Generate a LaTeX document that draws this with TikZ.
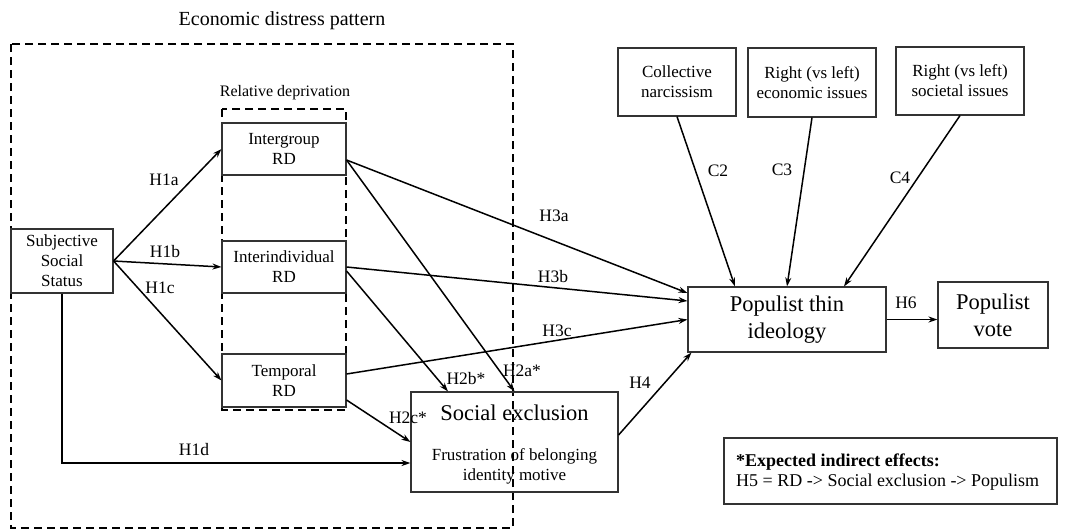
\documentclass[tikz,border=0pt]{standalone}
\usepackage{fontspec}
\setmainfont{Liberation Serif}
\usetikzlibrary{arrows.meta,calc}
\begin{document}
\begin{tikzpicture}[x=1pt,y=-1pt,
  box/.style={draw=black!80,line width=1.1pt,inner sep=0pt,align=center,font=\fontsize{17}{20}\selectfont},
  bigbox/.style={box,font=\fontsize{22.5}{27}\selectfont},
  txt/.style={inner sep=0pt,align=center,font=\fontsize{17}{20}\selectfont},
  lbl/.style={inner sep=0pt,font=\fontsize{17.5}{20}\selectfont},
  frame/.style={draw=black,line width=1.8pt,dash pattern=on 8pt off 5pt},
  arr/.style={draw=black,line width=1.5pt,-{Stealth[length=9pt,width=6pt]}}]
\useasboundingbox (0,0) rectangle (1065,531);
% frames
\draw[frame] (11,44) rectangle (513,528);
\draw[frame] (222,109) rectangle (346,410);
\node[inner sep=0pt,font=\fontsize{20}{24}\selectfont] (title) at (282,21) {Economic distress pattern};
\node[inner sep=0pt,font=\fontsize{16}{19}\selectfont] (rdtitle) at (285,93) {Relative deprivation};
% boxes
\node[box,minimum width=102pt,minimum height=64pt] (sss) at (62,261) {Subjective\\Social\\Status};
\node[box,minimum width=124pt,minimum height=52pt] (inter) at (284,149) {Intergroup\\RD};
\node[box,minimum width=124pt,minimum height=52pt] (indiv) at (284,267) {Interindividual\\RD};
\node[box,minimum width=124pt,minimum height=53pt] (temp) at (284,380.5) {Temporal\\RD};
\node[box,minimum width=207pt,minimum height=100pt] (socex) at (514.5,442) {};
\node[inner sep=0pt,font=\fontsize{22.5}{27}\selectfont] (socext) at (514.5,413) {Social exclusion};
\node[txt] (socexs) at (514.5,466.5) {Frustration of belonging\\identity motive};
\node[box,minimum width=118pt,minimum height=68pt] (cn) at (677,82) {Collective\\narcissism};
\node[box,minimum width=128pt,minimum height=69pt] (econ) at (812,82.5) {Right (vs left)\\economic issues};
\node[box,minimum width=128pt,minimum height=68pt] (soc) at (960,81) {Right (vs left)\\societal issues};
\node[bigbox,minimum width=198pt,minimum height=65pt] (pti) at (787,319.5) {Populist thin\\ideology};
\node[bigbox,minimum width=110pt,minimum height=66pt] (pv) at (993,315) {Populist\\vote};
\node[box,minimum width=333pt,minimum height=66pt] (leg) at (890.5,471) {};
\node[inner sep=0pt,anchor=west,align=left,font=\fontsize{18}{20}\selectfont] (legt) at (736,472) {\textbf{*Expected indirect effects:}\\H5 = RD -> Social exclusion -> Populism};
% connectors
\draw[arr] (sss.east) -- (inter.west);
\draw[arr] (sss.east) -- (indiv.west);
\draw[arr] (sss.east) -- (temp.west);
\draw[arr] (sss.south) |- ([yshift=-21pt]socex.west);
\draw[arr] ([yshift=-11pt]inter.east) -- (socex.north);
\draw[arr] ([yshift=-4pt]indiv.east) -- ([xshift=-66.5pt]socex.north);
\draw[arr] ([yshift=-19.5pt]temp.east) -- (socex.west);
\draw[arr] ([yshift=-11pt]inter.east) -- ([yshift=26.5pt]pti.west);
\draw[arr] (indiv.east) -- ([yshift=18.5pt]pti.west);
\draw[arr] ([yshift=6.5pt]temp.east) -- (pti.west);
\draw[arr] ([yshift=7pt]socex.east) -- ([xshift=4pt]pti.south west);
\draw[arr] (pti.east) -- (pti.east -| pv.west);
\draw[arr] (cn.south) -- ([xshift=-52pt]pti.north);
\draw[arr] (econ.south) -- (pti.north);
\draw[arr] (soc.south) -- ([xshift=57pt]pti.north);
% labels
\node[lbl] (l1a) at (164,180) {H1a};
\node[lbl] (l1b) at (165,252) {H1b};
\node[lbl] (l1c) at (160,288) {H1c};
\node[lbl] (l1d) at (194,450) {H1d};
\node[lbl] (l2a) at (522,371) {H2a*};
\node[lbl] (l2b) at (466,379) {H2b*};
\node[lbl] (l2c) at (408,418) {H2c*};
\node[lbl] (l3a) at (554,216) {H3a};
\node[lbl] (l3b) at (553,277) {H3b};
\node[lbl] (l3c) at (557,331) {H3c};
\node[lbl] (l4) at (640,383) {H4};
\node[lbl] (l6) at (906,303) {H6};
\node[lbl] (c2) at (718,171) {C2};
\node[lbl] (c3) at (782,170) {C3};
\node[lbl] (c4) at (900,178) {C4};
\end{tikzpicture}
\end{document}
